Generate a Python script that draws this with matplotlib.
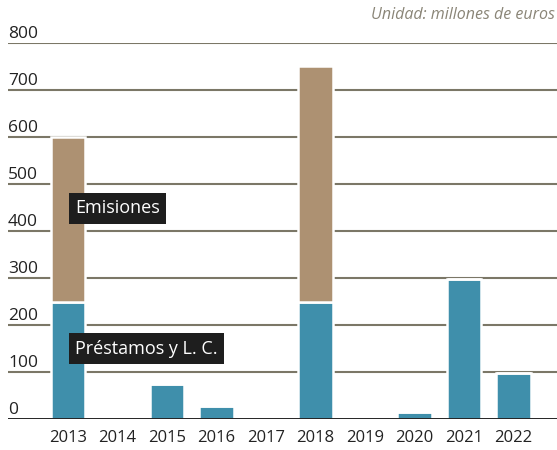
import matplotlib
matplotlib.use("Agg")
import matplotlib.pyplot as plt
import numpy as np

years = ["2013", "2014", "2015", "2016", "2017", "2018", "2019", "2020", "2021", "2022"]
prestamos = [250, 0, 75, 28, 0, 250, 0, 15, 298, 98]
emisiones = [350, 0, 0, 0, 0, 500, 0, 0, 0, 0]
y_ticks = [0, 100, 200, 300, 400, 500, 600, 700, 800]

blue = "#3f8fab"
tan = "#ad9172"
grid_c = "#7b7767"

plt.rcParams['font.family'] = ['Open Sans', 'DejaVu Sans']

fig = plt.figure(figsize=(5.57, 4.5), dpi=100)
ax = fig.add_axes([8 / 557, 31 / 450, 549 / 557, 376 / 450])

x = np.arange(len(years))
for v in y_ticks[1:]:
    ax.axhline(v, color=grid_c, lw=1.5, zorder=1)
for v in y_ticks:
    ax.text(0, v + 11, str(v), transform=ax.get_yaxis_transform(),
            fontsize=12.5, color="#222222", va="baseline", ha="left")
ax.axhline(0, color="#111111", lw=2, zorder=4)

ax.bar(x, prestamos, width=0.7, color=blue, edgecolor="white", lw=1.8, zorder=2)
ax.bar(x, emisiones, width=0.7, bottom=prestamos, color=tan, edgecolor="white", lw=1.8, zorder=2)

box = dict(boxstyle="square,pad=0.35", fc="#1e1e1e", ec="none")
ax.text(0.14, 448, "Emisiones", color="white", fontsize=13, va="center", ha="left",
        bbox=box, zorder=5)
ax.text(0.15, 150, "Préstamos y L. C.", color="white", fontsize=13, va="center", ha="left",
        bbox=box, zorder=5)

ax.set_xlim(-1.21, 9.88)
ax.set_ylim(0, 800)
ax.set_xticks(x)
ax.set_xticklabels(years, fontsize=12, color="#222222")
ax.tick_params(axis="x", length=0, pad=8)
ax.set_yticks([])
for s in ax.spines.values():
    s.set_visible(False)

fig.text(555 / 557, 1 - 15 / 450, "Unidad: millones de euros", ha="right", va="center",
         fontsize=11.5, style="italic", color="#8a8577")

fig.savefig("out.png", dpi=100)
